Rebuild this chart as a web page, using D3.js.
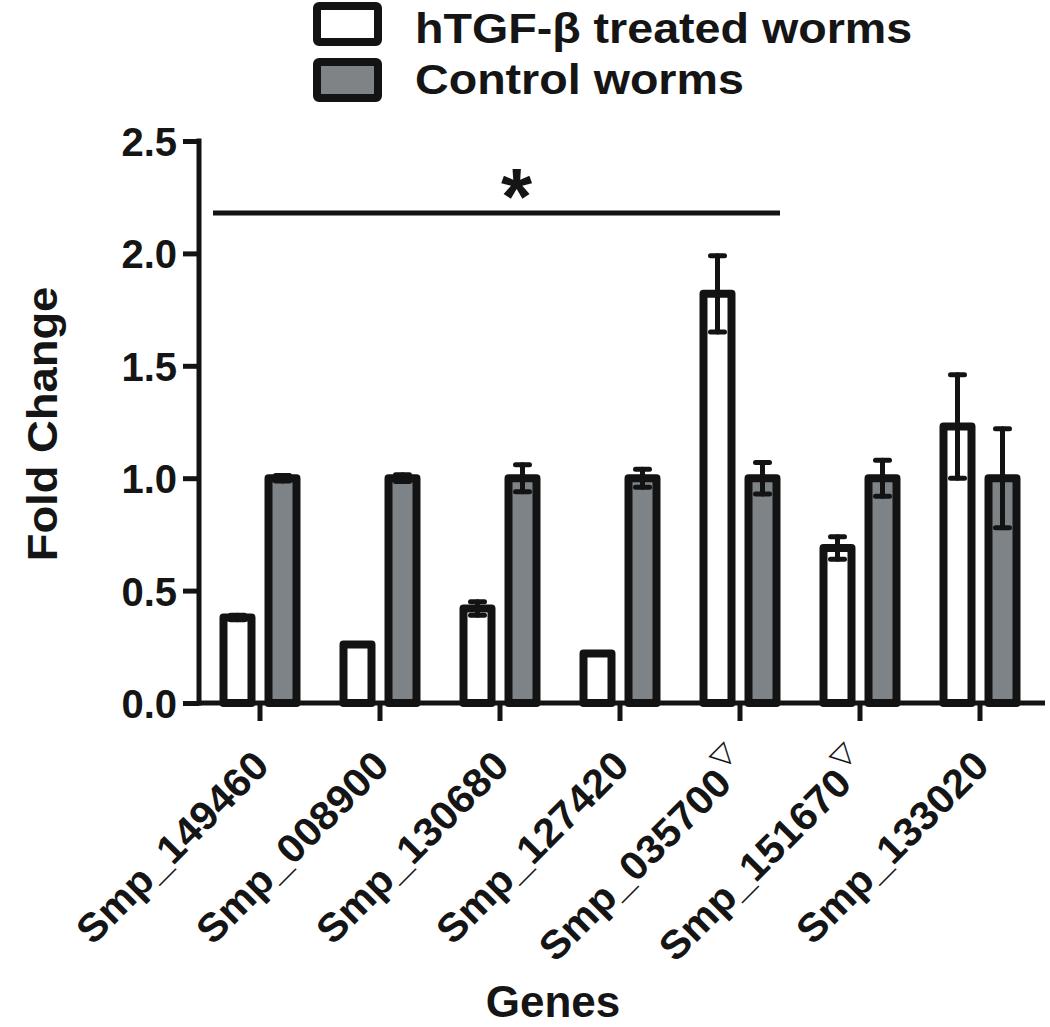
<!DOCTYPE html>
<html>
<head>
<meta charset="utf-8">
<script src="https://cdn.jsdelivr.net/npm/d3@7"></script>
<style>
  html, body { margin: 0; padding: 0; background: #fff; }
  svg { display: block; }
  text { font-family: "Liberation Sans", Arial, sans-serif; font-weight: bold; fill: #151515; }
</style>
</head>
<body>
<svg id="chart" width="1050" height="1027"></svg>
<script>
// ---- data ----
const genes = ["Smp_149460", "Smp_008900", "Smp_130680", "Smp_127420", "Smp_035700", "Smp_151670", "Smp_133020"];
const geneMarks = ["", "", "", "", "\u25BD", "\u25BD", ""];
const seriesNames = ["hTGF-\u03B2 treated worms", "Control worms"];
const treated = [0.38, 0.26, 0.42, 0.22, 1.82, 0.69, 1.23];
const treatedErr = [0.01, 0, 0.03, 0, 0.17, 0.05, 0.23];
const control = [1.0, 1.0, 1.0, 1.0, 1.0, 1.0, 1.0];
const controlErr = [0.012, 0.015, 0.06, 0.04, 0.07, 0.08, 0.22];
const yTicks = [0.0, 0.5, 1.0, 1.5, 2.0, 2.5];
const sigGenes = ["Smp_149460", "Smp_035700"];
const sigLabel = "*";
const yTitle = "Fold Change";
const xTitle = "Genes";

// ---- build ----
const svg = d3.select("#chart");
const ink = "#131313";
const grayFill = "#7e8387";

const x = d3.scaleBand().domain(genes).range([200, 1040]).paddingInner(0).paddingOuter(0);
const sub = d3.scaleBand().domain([0, 1]).range([-45, 45]);
const y = d3.scaleLinear().domain([0, 2.5]).range([703, 141]);

const series = [
  { vals: treated, errs: treatedErr, fill: "#ffffff" },
  { vals: control, errs: controlErr, fill: grayFill }
];

const barW = 28, barStroke = 8;

// bars
series.forEach((s, si) => {
  const g = svg.append("g");
  g.selectAll("rect").data(genes).join("rect")
    .attr("x", (d) => x(d) + x.bandwidth() / 2 + sub(si) + sub.bandwidth() / 2 - barW / 2)
    .attr("y", (d, i) => y(s.vals[i]))
    .attr("width", barW)
    .attr("height", (d, i) => y(0) - y(s.vals[i]))
    .attr("fill", s.fill)
    .attr("stroke", ink)
    .attr("stroke-width", barStroke)
    .attr("stroke-linejoin", "round");
});

// error bars
series.forEach((s, si) => {
  const g = svg.append("g").attr("stroke", ink).attr("stroke-width", 5).attr("stroke-linecap", "round");
  genes.forEach((d, i) => {
    const e = s.errs[i];
    if (!e) return;
    const cx = x(d) + x.bandwidth() / 2 + sub(si) + sub.bandwidth() / 2;
    const hi = y(s.vals[i] + e), lo = y(s.vals[i] - e);
    g.append("line").attr("x1", cx).attr("x2", cx).attr("y1", hi).attr("y2", lo);
    g.append("line").attr("x1", cx - 7).attr("x2", cx + 7).attr("y1", hi).attr("y2", hi);
    g.append("line").attr("x1", cx - 7).attr("x2", cx + 7).attr("y1", lo).attr("y2", lo);
  });
});

// y axis
const yAxis = svg.append("g").attr("transform", "translate(199,0)")
  .call(d3.axisLeft(y).tickValues(yTicks).tickFormat(d3.format(".1f")).tickSize(16).tickSizeOuter(0).tickPadding(6));
yAxis.select(".domain").remove();
yAxis.selectAll(".tick line").attr("stroke", ink).attr("stroke-width", 5);
yAxis.selectAll(".tick text").attr("font-size", 40).attr("fill", ink)
  .attr("font-family", "Liberation Sans, Arial, sans-serif").attr("font-weight", "bold").attr("dy", "0.36em");
svg.append("line").attr("x1", 199).attr("x2", 199).attr("y1", y(2.5) - 2.5).attr("y2", y(0) + 2.5)
  .attr("stroke", ink).attr("stroke-width", 5);

// x axis
const xAxis = svg.append("g").attr("transform", `translate(0,${y(0)})`)
  .call(d3.axisBottom(x).tickSize(18).tickSizeOuter(0).tickFormat(""));
xAxis.select(".domain").remove();
xAxis.selectAll(".tick line").attr("stroke", ink).attr("stroke-width", 5);
svg.append("line").attr("x1", 197).attr("x2", 1045).attr("y1", y(0)).attr("y2", y(0))
  .attr("stroke", ink).attr("stroke-width", 5);

// x tick labels
const xl = svg.append("g");
genes.forEach((d, i) => {
  const cx = x(d) + x.bandwidth() / 2;
  const t = xl.append("text")
    .attr("transform", `translate(${cx + 11},768) rotate(-45) scale(1.04,1)`)
    .attr("text-anchor", "end")
    .attr("font-size", 40);
  t.append("tspan").text(d);
  if (geneMarks[i]) {
    t.append("tspan").attr("font-family", "DejaVu Sans").attr("font-weight", "normal")
      .attr("font-size", 28).attr("dy", -20).attr("dx", 2).text(geneMarks[i]);
  }
});

// significance line
const sx1 = x(sigGenes[0]) + x.bandwidth() / 2 - 47;
const sx2 = x(sigGenes[1]) + x.bandwidth() / 2 + 40;
svg.append("line").attr("x1", sx1).attr("x2", sx2).attr("y1", 213).attr("y2", 213)
  .attr("stroke", ink).attr("stroke-width", 5);
svg.append("text").attr("x", (sx1 + sx2) / 2 + 20).attr("y", 224).attr("text-anchor", "middle")
  .attr("font-size", 80).text(sigLabel);

// axis titles
svg.append("text").attr("transform", "translate(57,424) rotate(-90) scale(1.08,1)").attr("text-anchor", "middle")
  .attr("font-size", 42).text(yTitle);
svg.append("text").attr("x", 553).attr("y", 1017).attr("text-anchor", "middle")
  .attr("font-size", 44).text(xTitle);

// legend
const lg = svg.append("g");
series.forEach((s, si) => {
  const yy = si === 0 ? 6 : 62;
  lg.append("rect").attr("x", 317).attr("y", yy).attr("width", 61).attr("height", 36).attr("rx", 2)
    .attr("fill", s.fill).attr("stroke", ink).attr("stroke-width", 8).attr("stroke-linejoin", "round");
  lg.append("text").attr("transform", `translate(415,${si === 0 ? 43 : 94}) scale(1.11,1)`)
    .attr("font-size", 42).text(seriesNames[si]);
});
</script>
</body>
</html>
